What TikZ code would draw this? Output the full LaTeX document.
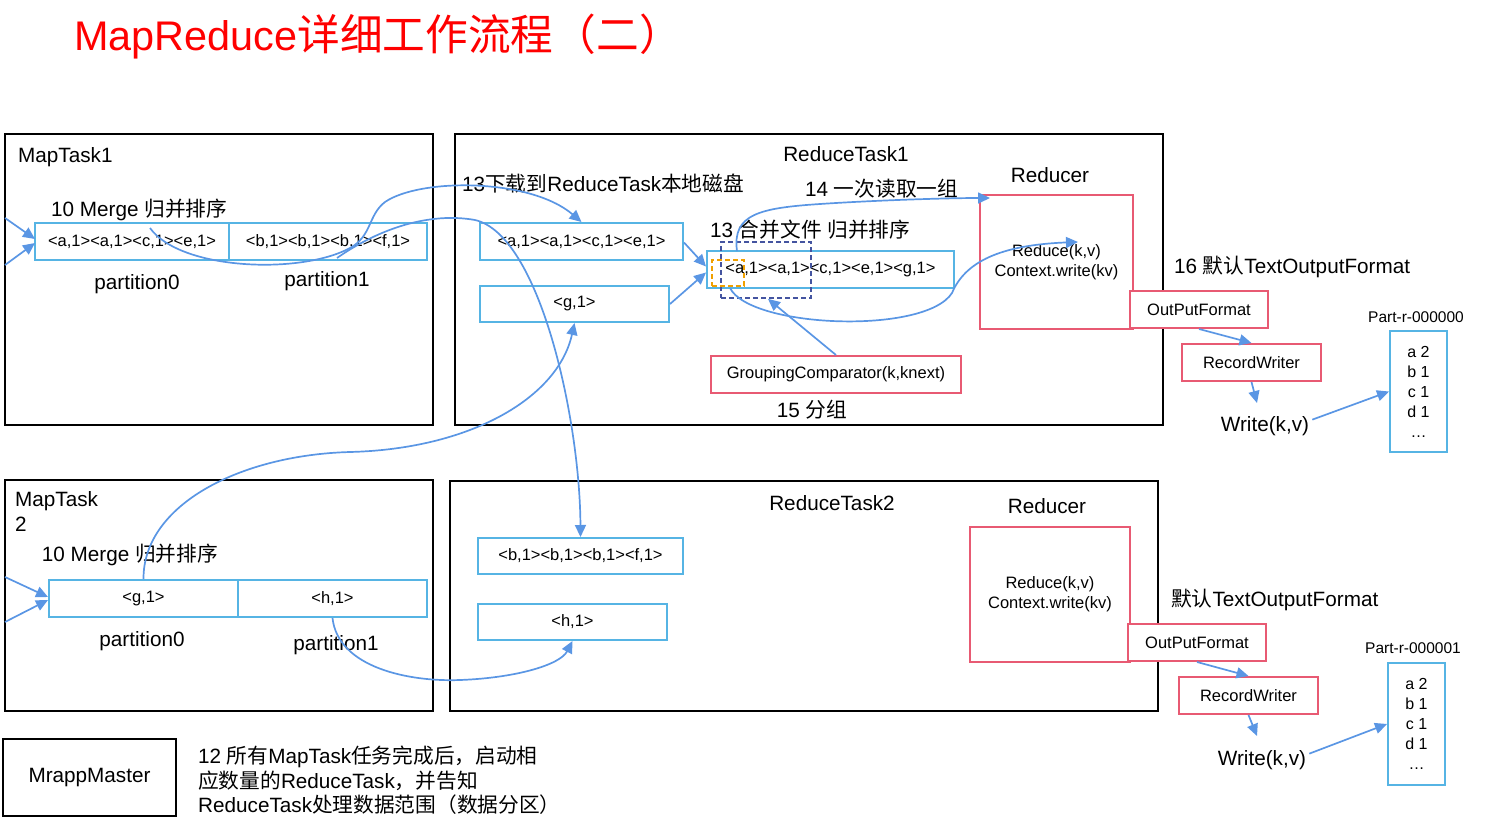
\documentclass[tikz,border=0pt]{standalone}
\usepackage{fontspec}
\setmainfont{Liberation Sans}
\newfontfamily\cjk{Noto Sans CJK SC}
\newcommand\zh[1]{{\cjk #1}}
\usetikzlibrary{arrows.meta,calc}
\definecolor{cellblue}{RGB}{86,180,228}
\definecolor{flowblue}{RGB}{90,150,228}
\definecolor{pinkred}{RGB}{232,90,115}
\definecolor{navyblue}{RGB}{68,84,160}
\definecolor{dorange}{RGB}{240,160,0}
\begin{document}
\begin{tikzpicture}[x=1pt,y=-1pt,
  lbl/.style={font=\fontsize{20.7}{24.5}\selectfont, inner sep=0pt},
  smalltext/.style={font=\fontsize{16.5}{20}\selectfont},
  titlefont/.style={font=\fontsize{41.4}{48}\selectfont, text=red, inner sep=0pt},
  taskbox/.style={draw=black, line width=2.4pt, inner sep=0pt},
  cell/.style={draw=cellblue, line width=2pt, smalltext, inner sep=0pt},
  pinkbox/.style={draw=pinkred, line width=2pt, smalltext, inner sep=0pt, align=center},
  partbox/.style={draw=cellblue, line width=2pt, inner sep=0pt, align=center, font=\fontsize{16}{20}\selectfont},
  partlbl/.style={font=\fontsize{15.5}{18}\selectfont, inner sep=0pt},
  flow/.style={draw=flowblue, line width=1.7pt, -{Triangle[length=12pt,width=11pt]}},
  dashsel/.style={line width=1.8pt, dash pattern=on 5pt off 3pt, inner sep=0pt}
]
\useasboundingbox (0,0) rectangle (1489,827);

% title
\node[titlefont, anchor=base west] (title) at (74,50) {MapReduce{\fontsize{42.7}{50}\selectfont\cjk 详细工作流程（二）}};

% ---------------- MapTask1
\node[taskbox, minimum width=428, minimum height=291] (mt1) at (219,279.5) {};
\node[lbl, anchor=base west] (mt1name) at (18,162) {MapTask1};
\node[lbl, anchor=base west] (mt1merge) at (51,216.5) {10 Merge \zh{归并排序}};
\node[cell, minimum width=194, minimum height=37] (m1p0) at (132,241.5) {<a,1><a,1><c,1><e,1>};
\node[cell, minimum width=198, minimum height=37] (m1p1) at (328,241.5) {<b,1><b,1><b,1><f,1>};
\node[lbl, anchor=base] (m1l0) at (137,289) {partition0};
\node[lbl, anchor=base] (m1l1) at (327,286) {partition1};
\coordinate (m1in1) at (5,218);
\coordinate (m1in2) at (5,265);
\coordinate (m1t1) at (35,239);
\coordinate (m1t2) at (35,243);
\draw[flow] (m1in1) -- (m1t1);
\draw[flow] (m1in2) -- (m1t2);

% ---------------- ReduceTask1
\node[taskbox, minimum width=708, minimum height=291] (rt1) at (809,279.5) {};
\node[lbl, anchor=base] (rt1name) at (846,161) {ReduceTask1};
\node[lbl, anchor=base west] (rt1dl) at (462,191) {13\zh{下载到}ReduceTask\zh{本地磁盘}};
\node[lbl, anchor=base west] (rt1read) at (805,196) {14 \zh{一次读取一组}};
\node[lbl, anchor=base] (rt1red) at (1050,182) {Reducer};
\node[lbl, anchor=base west] (rt1merge) at (710,237) {13 \zh{合并文件} \zh{归并排序}};
\node[lbl, anchor=base] (rt1grp) at (812,417) {15 \zh{分组}};
\node[cell, minimum width=203, minimum height=37] (r1a) at (581.5,241.5) {<a,1><a,1><c,1><e,1>};
\node[cell, minimum width=189, minimum height=36] (r1g) at (574.5,304) {<g,1>};
\node[cell, minimum width=247, minimum height=37] (r1m) at (830.5,269.5) {<a,1><a,1><c,1><e,1><g,1>};
\node[dashsel, draw=navyblue, minimum width=90, minimum height=56] (grpsel) at (766,270) {};
\node[dashsel, draw=dorange, minimum width=32, minimum height=26] (keysel) at (728,273) {};
\node[pinkbox, minimum width=153, minimum height=134] (red1) at (1056.5,262) {Reduce(k,v)\\Context.write(kv)};
\node[pinkbox, minimum width=250, minimum height=37] (gc) at (836,374.5) {GroupingComparator(k,knext)};

\draw[flow] ($(r1a.east)+(0,1)$) -- ($(r1m.west)+(0,-3)$);
\draw[flow] (r1g.east) -- ($(r1m.west)+(0,3)$);
\draw[flow] (gc.north) -- ($(grpsel.south)+(2,0)$);

% output 1
\node[lbl, anchor=base west] (of1lbl) at (1174,273) {16 \zh{默认}TextOutputFormat};
\node[pinkbox, fill=white, minimum width=138, minimum height=37] (opf1) at (1199,309.5) {OutPutFormat};
\node[pinkbox, minimum width=139, minimum height=37] (rw1) at (1251.5,362.5) {RecordWriter};
\node[lbl, anchor=base] (w1) at (1265,431) {Write(k,v)};
\node[partlbl, anchor=base] (p1name) at (1416,322) {Part-r-000000};
\node[partbox, minimum width=57, minimum height=121] (part1) at (1418.5,391.5) {a 2\\b 1\\c 1\\d 1\\…};
\coordinate (w1top) at (1257,403);
\draw[flow] (opf1.south) -- (rw1.north);
\draw[flow] (rw1.south) -- (w1top);
\draw[flow] ($(w1.east)+(3,-6)$) -- (part1.west);

% ---------------- MapTask2
\node[taskbox, minimum width=428, minimum height=231] (mt2) at (219,595.5) {};
\node[lbl, anchor=north west, align=left] (mt2name) at (15,491.5) {MapTask\\2};
\node[lbl, anchor=base west] (mt2merge) at (41.7,561) {10 Merge \zh{归并排序}};
\node[cell, minimum width=189, minimum height=37] (m2p0) at (143.5,598.5) {<g,1>};
\node[cell, minimum width=189, minimum height=37] (m2p1) at (332.5,598.5) {<h,1>};
\node[lbl, anchor=base] (m2l0) at (142,646.7) {partition0};
\node[lbl, anchor=base] (m2l1) at (336,650) {partition1};
\coordinate (m2in1) at (5,577);
\coordinate (m2in2) at (5,622);
\coordinate (m2t1) at (48,597);
\coordinate (m2t2) at (48,600);
\draw[flow] (m2in1) -- (m2t1);
\draw[flow] (m2in2) -- (m2t2);

% ---------------- ReduceTask2
\node[taskbox, minimum width=708, minimum height=230] (rt2) at (804,596) {};
\node[lbl, anchor=base] (rt2name) at (832,510.7) {ReduceTask2};
\node[lbl, anchor=base] (rt2red) at (1047,513) {Reducer};
\node[cell, minimum width=205, minimum height=36] (r2b) at (580.5,556) {<b,1><b,1><b,1><f,1>};
\node[cell, minimum width=189, minimum height=36] (r2h) at (572.5,622) {<h,1>};
\node[pinkbox, minimum width=160, minimum height=135] (red2) at (1050,594.5) {Reduce(k,v)\\Context.write(kv)};

% output 2
\node[lbl, anchor=base west] (of2lbl) at (1171,606.7) {\zh{默认}TextOutputFormat};
\node[pinkbox, fill=white, minimum width=138, minimum height=37] (opf2) at (1197,642.5) {OutPutFormat};
\node[pinkbox, minimum width=139, minimum height=37] (rw2) at (1248.5,695.5) {RecordWriter};
\node[lbl, anchor=base] (w2) at (1262,765) {Write(k,v)};
\node[partlbl, anchor=base] (p2name) at (1413,653) {Part-r-000001};
\node[partbox, minimum width=57, minimum height=122] (part2) at (1416.5,724) {a 2\\b 1\\c 1\\d 1\\…};
\coordinate (w2top) at (1257,736);
\draw[flow] (opf2.south) -- (rw2.north);
\draw[flow] (rw2.south) -- (w2top);
\draw[flow] ($(w2.east)+(3,-6)$) -- (part2.west);

% ---------------- MrappMaster
\node[taskbox, line width=2pt, lbl, minimum width=173, minimum height=77] (mrapp) at (89.5,777.5) {MrappMaster};
\node[lbl, anchor=north west, align=left] (note) at (198,746) {12 \zh{所有}MapTask\zh{任务完成后，启动相}\\\zh{应数量的}ReduceTask\zh{，并告知}\\ReduceTask\zh{处理数据范围（数据分区）}};

% ---------------- curves
\coordinate (m1a0) at (150,228);
\coordinate (m1b0) at (337,258);
\coordinate (r1mtop) at (737,251);
\coordinate (r1mbot) at (730,288);
\coordinate (red1in) at (990,198);
\coordinate (red1txt) at (1078,242);
\draw[flow] (m1a0) .. controls (180,270) and (300,275) .. (350,248)
  .. controls (372,236) and (368,215) .. (385,202)
  .. controls (420,178) and (530,178) .. (r1a.north);
\draw[flow] (m1b0) .. controls (380,228) and (430,212) .. (475,220)
  .. controls (540,235) and (580,420) .. (r2b.north);
\draw[flow] (m2p0.north) .. controls (143,505) and (240,455) .. (350,452)
  .. controls (470,449) and (558,398) .. (r1g.south);
\draw[flow] (m2p1.south) .. controls (338,668) and (410,682) .. (460,680)
  .. controls (515,678) and (560,665) .. (r2h.south);
\draw[flow] (r1mtop) .. controls (732,214) and (760,208) .. (820,204)
  .. controls (880,200) and (950,198) .. (red1in);
\draw[flow] (r1mbot) .. controls (750,328) and (925,335) .. (952,293)
  .. controls (965,262) and (1000,245) .. (red1txt);
\end{tikzpicture}
\end{document}
